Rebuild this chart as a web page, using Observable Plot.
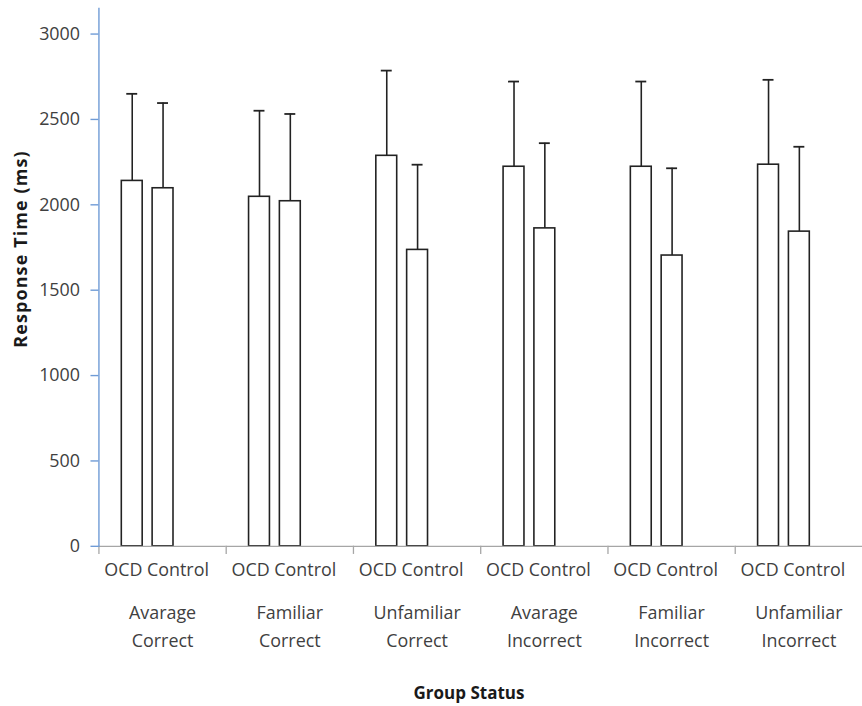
<!DOCTYPE html>
<html>
<head>
<meta charset="utf-8">
<script src="https://cdn.jsdelivr.net/npm/d3@7"></script>
<script src="https://cdn.jsdelivr.net/npm/@observablehq/plot@0.6"></script>
<style>
  html, body { margin: 0; padding: 0; background: white; overflow: hidden; }
  #wrap { position: relative; width: 862px; height: 706px; overflow: hidden; }
  .ttl { position: absolute; font-family: 'Open Sans', sans-serif; font-weight: bold; color: #1a1a1a; white-space: nowrap; }
  #ylab { left: 20px; top: 249px; font-size: 18px; letter-spacing: 1.1px; transform: translate(-50%, -50%) rotate(-90deg); }
  #xlab { left: 469px; top: 692px; font-size: 17px; transform: translate(-50%, -50%); }
</style>
</head>
<body>
<div id="wrap">
  <div id="chart"></div>
  <div class="ttl" id="ylab">Response Time (ms)</div>
  <div class="ttl" id="xlab">Group Status</div>
</div>
<script>
// ---- data ----
const series = ["OCD", "Control"];
const conditions = ["Avarage", "Familiar", "Unfamiliar", "Avarage", "Familiar", "Unfamiliar"];
const outcomes = ["Correct", "Correct", "Correct", "Incorrect", "Incorrect", "Incorrect"];
const ocdMean = [2140, 2047, 2287, 2223, 2223, 2235];
const ocdSD = [510, 504, 499, 499, 499, 497];
const controlMean = [2097, 2021, 1736, 1862, 1703, 1843];
const controlSD = [499, 511, 499, 499, 511, 497];
const yTicks = [0, 500, 1000, 1500, 2000, 2500, 3000];

// ---- build table ----
const groupKeys = conditions.map((c, i) => c + "\n" + outcomes[i]);
const rows = [];
groupKeys.forEach((g, i) => {
  rows.push({group: g, series: series[0], mean: ocdMean[i], upper: ocdMean[i] + ocdSD[i]});
  rows.push({group: g, series: series[1], mean: controlMean[i], upper: controlMean[i] + controlSD[i]});
});
const seriesLabel = series.join(" ");
const blue = "#6f9bd6";
const gray = "#a6a6a6";

const chart = Plot.plot({
  width: 867,
  height: 706,
  marginLeft: 99,
  marginRight: 0,
  marginTop: 8,
  marginBottom: 157,
  style: {fontFamily: "'Open Sans', sans-serif", fontSize: "18px", color: "#404040", background: "white", overflow: "visible"},
  fx: {domain: groupKeys, padding: 0, axis: null, label: null},
  x: {domain: [...series, "_"], paddingInner: 0.323, paddingOuter: 0.726, axis: null},
  y: {domain: [0, 3150], axis: null},
  marks: [
    Plot.ruleX(rows, {fx: "group", x: "series", y1: "mean", y2: "upper", stroke: "#222", strokeWidth: 1.6}),
    Plot.tickY(rows, {fx: "group", x: "series", y: "upper", stroke: "#222", strokeWidth: 1.8, insetLeft: 5, insetRight: 5}),
    Plot.barY(rows, {fx: "group", x: "series", y: "mean", fill: "white", stroke: "#222", strokeWidth: 1.6}),
    Plot.ruleY([0], {stroke: gray, strokeWidth: 1.3}),
    Plot.frame({anchor: "left", stroke: gray, strokeWidth: 1.3, insetTop: 541, insetBottom: -7}),
    Plot.frame({anchor: "left", stroke: blue, strokeWidth: 1.4, facetAnchor: "left"}),
    Plot.axisY({ticks: yTicks, tickSize: 8, tickPadding: 11, stroke: blue, strokeWidth: 1.4, fontSize: 18, label: null, tickFormat: d => String(d)}),
    Plot.text(groupKeys, {fx: d => d, text: () => seriesLabel, frameAnchor: "bottom", lineAnchor: "middle", dy: 24, dx: -6, fontSize: 18}),
    Plot.text(groupKeys, {fx: d => d, text: d => d, frameAnchor: "bottom", lineAnchor: "middle", dy: 78, lineHeight: 1.55, fontSize: 18})
  ]
});
document.getElementById("chart").appendChild(chart);
</script>
</body>
</html>
